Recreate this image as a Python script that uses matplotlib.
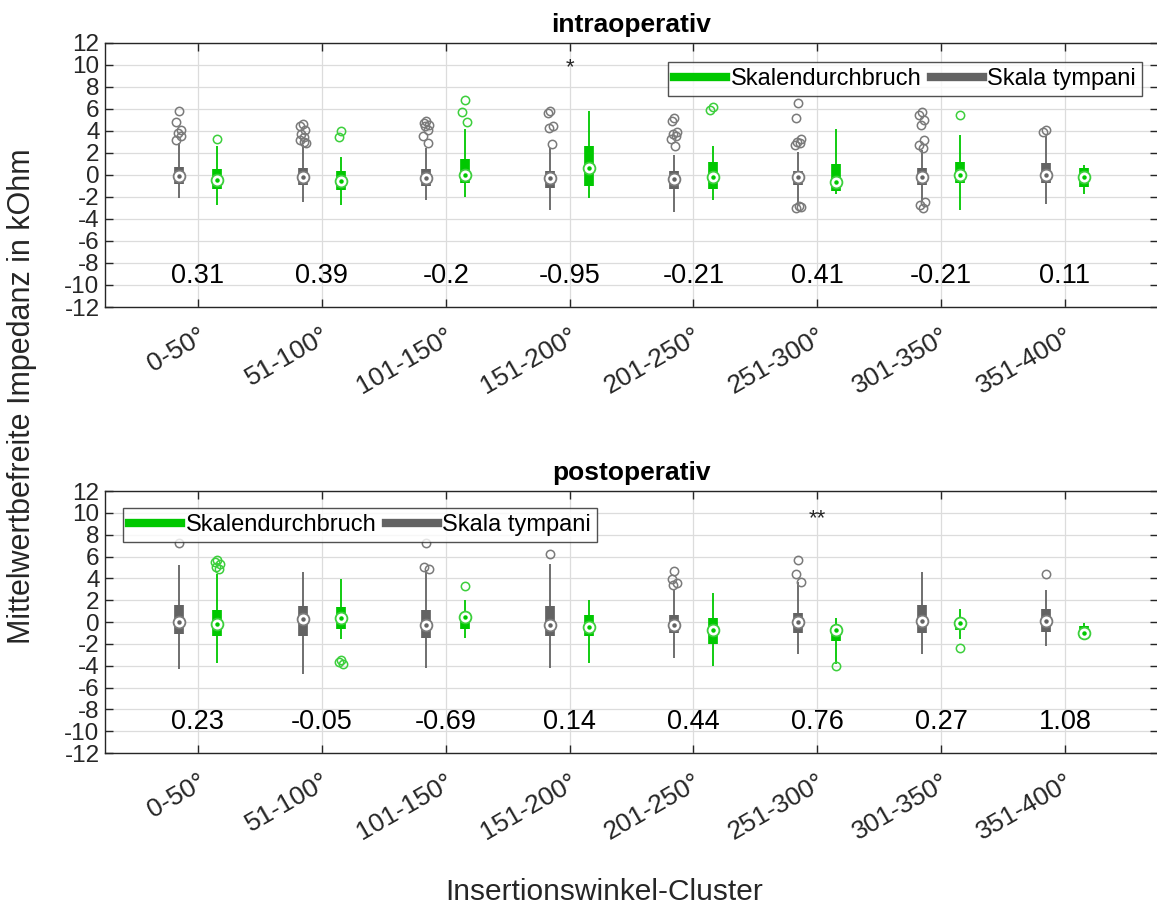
import matplotlib
matplotlib.use("Agg")
import matplotlib.pyplot as plt
from matplotlib.lines import Line2D

plt.rcParams['font.family'] = ['Liberation Sans', 'DejaVu Sans']
plt.rcParams['axes.unicode_minus'] = False

categories = ['0-50°', '51-100°', '101-150°', '151-200°', '201-250°', '251-300°', '301-350°', '351-400°']

# intraoperative - Skala tympani (gray)
intra_st_med = [-0.1, -0.15, -0.25, -0.3, -0.36, -0.15, -0.2, -0.05]
intra_st_q1 = [-0.85, -0.9, -1.0, -1.2, -1.24, -0.9, -0.9, -0.7]
intra_st_q3 = [0.76, 0.64, 0.5, 0.36, 0.4, 0.4, 0.6, 1.1]
intra_st_wlo = [-2.1, -2.5, -2.3, -3.2, -3.4, -2.6, -2.4, -2.6]
intra_st_whi = [2.9, 2.7, 2.4, 2.4, 1.8, 2.1, 2.3, 3.5]
intra_st_out = [[5.85, 4.8, 4.1, 3.8, 3.5, 3.2],
                [4.6, 4.4, 4.1, 3.7, 3.4, 3.2, 3.0, 2.9],
                [4.9, 4.7, 4.5, 4.4, 4.1, 3.5, 2.9],
                [5.85, 5.6, 4.4, 4.3, 2.8],
                [5.2, 4.9, 3.9, 3.7, 3.5, 3.3, 2.6],
                [6.5, 5.2, 3.3, 3.0, 2.9, 2.7, -2.8, -2.9, -3.0],
                [5.7, 5.4, 5.0, 4.5, 3.2, 2.7, 2.4, -2.5, -2.7, -3.0],
                [4.1, 3.9]]

# intraoperative - Skalendurchbruch (green)
intra_sd_med = [-0.45, -0.55, -0.05, 0.67, -0.15, -0.6, 0.0, -0.15]
intra_sd_q1 = [-1.27, -1.36, -0.75, -1.0, -1.27, -1.5, -0.76, -1.1]
intra_sd_q3 = [0.5, 0.36, 1.45, 2.6, 1.2, 0.97, 1.2, 0.67]
intra_sd_wlo = [-2.7, -2.7, -2.0, -2.1, -2.3, -1.7, -3.2, -1.7]
intra_sd_whi = [2.6, 1.6, 4.2, 5.8, 2.6, 4.2, 3.6, 0.9]
intra_sd_out = [[3.3], [4.0, 3.4], [6.8, 5.7, 4.8], [], [6.2, 5.9], [], [5.45], []]

# postoperative - Skala tympani (gray)
post_st_med = [0.03, 0.27, -0.25, -0.3, -0.27, 0.03, 0.1, 0.12]
post_st_q1 = [-1.1, -1.3, -1.5, -1.3, -1.0, -1.0, -1.0, -0.9]
post_st_q3 = [1.6, 1.5, 1.1, 1.5, 0.6, 0.85, 1.6, 1.15]
post_st_wlo = [-4.3, -4.8, -4.2, -4.2, -3.3, -2.9, -2.9, -2.2]
post_st_whi = [5.2, 4.6, 4.8, 5.3, 3.0, 3.7, 4.6, 2.9]
post_st_out = [[7.2], [], [7.2, 5.0, 4.9], [6.2], [4.7, 3.9, 3.6, 3.4], [5.7, 4.4, 3.7], [], [4.4]]

# postoperative - Skalendurchbruch (green)
post_sd_med = [-0.2, 0.33, 0.5, -0.5, -0.73, -0.73, -0.12, -0.97]
post_sd_q1 = [-1.25, -0.6, -0.6, -1.25, -2.0, -1.7, -0.7, -1.5]
post_sd_q3 = [1.1, 1.4, 0.7, 0.6, 0.4, -0.36, 0.1, -0.36]
post_sd_wlo = [-3.75, -1.6, -1.5, -3.75, -4.0, -3.8, -1.6, -1.5]
post_sd_whi = [4.4, 3.9, 2.0, 2.0, 2.7, 0.4, 1.2, -0.1]
post_sd_out = [[5.7, 5.5, 5.3, 5.0, 4.9], [-3.5, -3.7, -3.8], [3.3], [], [], [-4.0], [-2.4], []]

intra_labels = ['0.31', '0.39', '-0.2', '-0.95', '-0.21', '0.41', '-0.21', '0.11']
post_labels = ['0.23', '-0.05', '-0.69', '0.14', '0.44', '0.76', '0.27', '1.08']
intra_sig = {4: '*'}
post_sig = {6: '**'}

yticks = [-12, -10, -8, -6, -4, -2, 0, 2, 4, 6, 8, 10, 12]

GRAY = '#636363'
GRAY_OUT = '#7a7a7a'
GREEN = '#00c800'
GREEN_OUT = '#3ccf3c'
TXT = '#262626'

jitter = [0.0, -0.02, 0.02, -0.01, 0.015, -0.025, 0.01, 0.025, -0.015, 0.005]


def draw_group(ax, xs, med, q1, q3, wlo, whi, outs, col, ocol):
    for i, x in enumerate(xs):
        ax.plot([x, x], [wlo[i], whi[i]], color=col, lw=1.3, solid_capstyle='butt', zorder=2)
        ax.plot([x, x], [q1[i], q3[i]], color=col, lw=7, solid_capstyle='butt', zorder=3)
        ax.plot([x], [med[i]], marker='o', ms=8.5, mfc='white', mec=ocol, mew=1.3, zorder=4)
        ax.plot([x], [med[i]], marker='o', ms=2.2, mfc=col, mec=col, zorder=5)
        ox = [x + jitter[j % len(jitter)] for j in range(len(outs[i]))]
        if outs[i]:
            ax.plot(ox, outs[i], ls='none', marker='o', ms=6, mfc='none', mec=ocol, mew=1.1, zorder=4)


fig = plt.figure(figsize=(11.57, 9.11), dpi=100)
ax1 = fig.add_axes([0.0908, 0.663, 0.910, 0.290])
ax2 = fig.add_axes([0.0908, 0.1734, 0.910, 0.2876])

pos = list(range(1, len(categories) + 1))
panels = [
    (ax1, 'intraoperativ',
     (intra_st_med, intra_st_q1, intra_st_q3, intra_st_wlo, intra_st_whi, intra_st_out),
     (intra_sd_med, intra_sd_q1, intra_sd_q3, intra_sd_wlo, intra_sd_whi, intra_sd_out),
     intra_labels, intra_sig, ('upper right', (0.985, 0.926)), 9.7),
    (ax2, 'postoperativ',
     (post_st_med, post_st_q1, post_st_q3, post_st_wlo, post_st_whi, post_st_out),
     (post_sd_med, post_sd_q1, post_sd_q3, post_sd_wlo, post_sd_whi, post_sd_out),
     post_labels, post_sig, ('upper left', (0.017, 0.935)), 9.5),
]

for ax, title, st, sd, labels, sig, leg_anchor, sigy in panels:
    draw_group(ax, [p - 0.155 for p in pos], *st, GRAY, GRAY_OUT)
    draw_group(ax, [p + 0.155 for p in pos], *sd, GREEN, GREEN_OUT)
    for p, lab in zip(pos, labels):
        ax.text(p, -9.2, lab, ha='center', va='center', fontsize=19.5, color='black')
    for k, s in sig.items():
        ax.text(k, sigy, s, ha='center', va='center', fontsize=16, color=TXT)
    ax.set_xlim(0.25, 8.75)
    ax.set_ylim(-12, 12)
    ax.set_yticks(yticks)
    ax.set_yticklabels([str(t) for t in yticks], fontsize=17.5, color=TXT)
    ax.set_xticks(pos)
    ax.set_xticklabels(categories, rotation=30, ha='right', va='top',
                       rotation_mode='anchor', fontsize=19, color=TXT)
    ax.tick_params(direction='in', top=True, right=True, length=6, width=1, colors=TXT,
                   labelcolor=TXT)
    ax.tick_params(axis='x', pad=12)
    ax.tick_params(axis='y', pad=4)
    ax.grid(True, color='#dcdcdc', lw=0.9)
    ax.set_axisbelow(True)
    for sp in ax.spines.values():
        sp.set_color(TXT)
        sp.set_linewidth(1.0)
    ax.set_title(title, fontsize=19, fontweight='bold', color='black', pad=8)
    handles = [Line2D([], [], color=GREEN, lw=6), Line2D([], [], color=GRAY, lw=6)]
    leg = ax.legend(handles, ['Skalendurchbruch', 'Skala tympani'], loc=leg_anchor[0],
                    bbox_to_anchor=leg_anchor[1], ncol=2,
                    fontsize=17, frameon=True, fancybox=False, handlelength=2.2,
                    handletextpad=0.2, columnspacing=0.4, borderpad=0.25,
                    borderaxespad=0.0, edgecolor=TXT)
    leg.get_frame().set_linewidth(1.0)

fig.text(0.019, 0.565, 'Mittelwertbefreite Impedanz in kOhm', rotation=90, ha='center',
         va='center', fontsize=22, color=TXT)
fig.text(0.522, 0.021, 'Insertionswinkel-Cluster', ha='center', va='center', fontsize=21.5,
         color=TXT)

fig.savefig('out.png', dpi=100, facecolor='white')
